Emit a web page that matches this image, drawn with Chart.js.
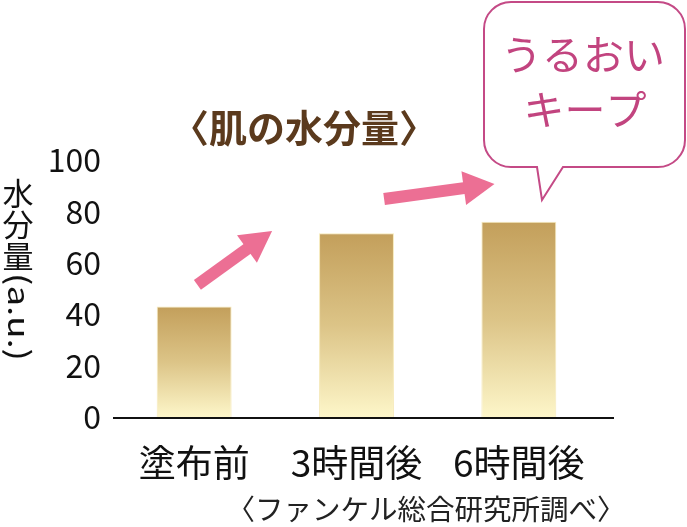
<!DOCTYPE html>
<html>
<head>
<meta charset="utf-8">
<script src="https://cdn.jsdelivr.net/npm/chart.js@4.4.1/dist/chart.umd.min.js"></script>
<style>
  html, body { margin: 0; padding: 0; background: #fff; }
  #wrap { width: 687px; height: 527px; position: relative; }
</style>
</head>
<body>
<div id="wrap"><canvas id="moistChart"></canvas></div>
<script>
// データ
const categories = ['塗布前', '3時間後', '6時間後'];
const moistureValues = [43, 71.5, 76];
const yTicks = [0, 20, 40, 60, 80, 100];

const FONT = '"Noto Sans CJK JP", "Noto Sans", sans-serif';

// 矢印・吹き出し・タイトルなどの装飾
const decorPlugin = {
    id: 'decor',
    afterDatasetsDraw(chart) {
        const { ctx, chartArea, scales } = chart;
        const x = scales.x, y = scales.y;
        const step = x.getPixelForValue(1) - x.getPixelForValue(0);
        const px = (i) => x.getPixelForValue(0) + i * step;

        // 横軸の線
        ctx.save();
        ctx.strokeStyle = '#111';
        ctx.lineWidth = 2;
        ctx.beginPath();
        ctx.moveTo(chartArea.left, y.getPixelForValue(0) + 1);
        ctx.lineTo(chartArea.right + 14, y.getPixelForValue(0) + 1);
        ctx.stroke();
        ctx.restore();

        // ピンクの矢印
        drawArrow(ctx, px(0.02), y.getPixelForValue(51.4), px(0.48), y.getPixelForValue(72.4));
        drawArrow(ctx, px(1.17), y.getPixelForValue(84.8), px(1.85), y.getPixelForValue(90.7));

        // タイトル
        ctx.save();
        ctx.fillStyle = '#5b3a1d';
        ctx.font = 'bold 38px ' + FONT;
        ctx.textAlign = 'center';
        ctx.textBaseline = 'middle';
        ctx.fillText('〈肌の水分量〉', 304, 128);
        ctx.restore();

        // 縦軸タイトル（縦書き）
        ctx.save();
        ctx.fillStyle = '#111';
        ctx.font = '31px ' + FONT;
        ctx.textAlign = 'center';
        ctx.textBaseline = 'middle';
        ['水', '分', '量'].forEach((ch, i) => ctx.fillText(ch, 18, 193 + i * 31.5));
        ctx.translate(19, 273);
        ctx.rotate(Math.PI / 2);
        ctx.textAlign = 'left';
        ctx.font = '30px ' + FONT;
        const t = '(a.u.)';
        const w = ctx.measureText(t).width;
        ctx.scale(88 / w, 1);
        ctx.fillText(t, 0, 0);
        ctx.restore();

        // 出典
        ctx.save();
        ctx.fillStyle = '#222';
        ctx.font = '28.5px ' + FONT;
        ctx.textAlign = 'center';
        ctx.textBaseline = 'middle';
        ctx.fillText('〈ファンケル総合研究所調べ〉', 426, 509);
        ctx.restore();

        // 吹き出し
        drawBubble(ctx);
    }
};

function drawArrow(ctx, x1, y1, x2, y2) {
    const headLen = 31, headHalf = 17, shaft = 12;
    const ang = Math.atan2(y2 - y1, x2 - x1);
    const bx = x2 - headLen * Math.cos(ang);
    const by = y2 - headLen * Math.sin(ang);
    ctx.save();
    ctx.fillStyle = '#ec6f94';
    ctx.strokeStyle = '#ec6f94';
    ctx.lineWidth = shaft;
    ctx.beginPath();
    ctx.moveTo(x1, y1);
    ctx.lineTo(bx + 2 * Math.cos(ang), by + 2 * Math.sin(ang));
    ctx.stroke();
    ctx.beginPath();
    ctx.moveTo(x2, y2);
    ctx.lineTo(bx + headHalf * Math.sin(ang), by - headHalf * Math.cos(ang));
    ctx.lineTo(bx - headHalf * Math.sin(ang), by + headHalf * Math.cos(ang));
    ctx.closePath();
    ctx.fill();
    ctx.restore();
}

function drawBubble(ctx) {
    const l = 484, t = 2, r = 685, b = 167, rad = 27;
    ctx.save();
    ctx.strokeStyle = '#c44a86';
    ctx.lineWidth = 2;
    ctx.fillStyle = '#fff';
    ctx.beginPath();
    ctx.moveTo(l + rad, t);
    ctx.lineTo(r - rad, t);
    ctx.arcTo(r, t, r, t + rad, rad);
    ctx.lineTo(r, b - rad);
    ctx.arcTo(r, b, r - rad, b, rad);
    ctx.lineTo(563, b);
    ctx.lineTo(542, 200);
    ctx.lineTo(537, b);
    ctx.lineTo(l + rad, b);
    ctx.arcTo(l, b, l, b - rad, rad);
    ctx.lineTo(l, t + rad);
    ctx.arcTo(l, t, l + rad, t, rad);
    ctx.closePath();
    ctx.fill();
    ctx.stroke();

    ctx.fillStyle = '#c2447f';
    ctx.font = '41px ' + FONT;
    ctx.textAlign = 'center';
    ctx.textBaseline = 'middle';
    ctx.fillText('うるおい', 583, 54);
    ctx.fillText('キープ', 585, 109);
    ctx.restore();
}

function barGradient(context) {
    const chart = context.chart;
    const yScale = chart.scales.y;
    if (!chart.chartArea || !yScale) return '#d9be80';
    const v = context.raw;
    const top = yScale.getPixelForValue(v);
    const bottom = yScale.getPixelForValue(0);
    const g = chart.ctx.createLinearGradient(0, top, 0, bottom);
    g.addColorStop(0, '#c39f5b');
    g.addColorStop(0.5, '#dcc487');
    g.addColorStop(1, '#fdf6c9');
    return g;
}

const chart = new Chart(document.getElementById('moistChart'), {
    type: 'bar',
    data: {
        labels: categories,
        datasets: [{
            data: moistureValues,
            backgroundColor: barGradient,
            borderColor: 'rgba(245, 232, 180, 0.9)',
            borderWidth: 1,
            barPercentage: 0.4615,
            categoryPercentage: 1
        }]
    },
    options: {
        responsive: true,
        maintainAspectRatio: false,
        animation: false,
        layout: {
            padding: { top: 160, right: 87, left: 0, bottom: 0 }
        },
        plugins: {
            legend: { display: false },
            tooltip: { enabled: false }
        },
        scales: {
            x: {
                grid: { display: false, drawTicks: false },
                border: { display: false },
                ticks: {
                    color: '#111',
                    font: { family: FONT, size: 37 },
                    padding: 24,
                    maxRotation: 0,
                    autoSkip: false
                },
                afterFit(scale) { scale.height = 110; }
            },
            y: {
                min: 0,
                max: 100,
                grid: { display: false, drawTicks: false },
                border: { display: false },
                afterBuildTicks(scale) {
                    scale.ticks = yTicks.map(v => ({ value: v }));
                },
                ticks: {
                    color: '#111',
                    font: { family: FONT, size: 32 },
                    padding: 12
                },
                afterFit(scale) { scale.width = 113; }
            }
        }
    },
    plugins: [decorPlugin]
});
</script>
</body>
</html>
